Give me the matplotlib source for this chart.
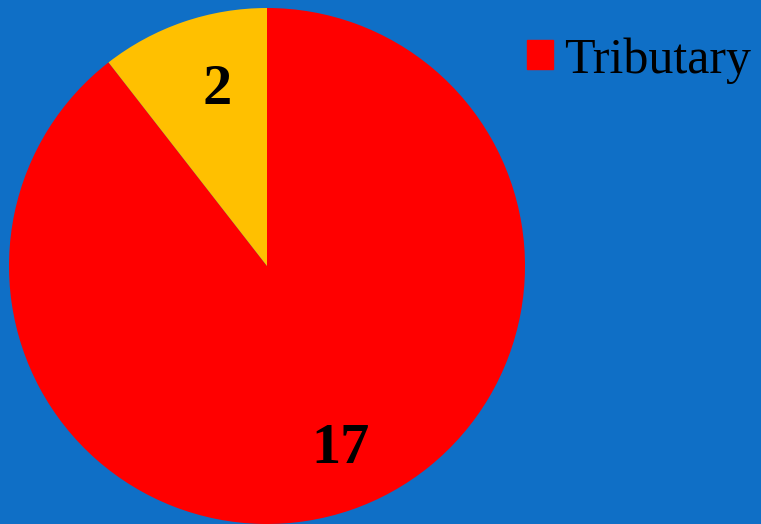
import matplotlib
matplotlib.use("Agg")
import matplotlib.pyplot as plt
import matplotlib.patches as mpatches

# Datos del grafico
categorias = ['Tributary', 'Other']
valores = [17, 2]
colores = ['#FF0000', '#FFC000']
fondo = '#0F6FC6'

plt.rcParams['font.family'] = ['Liberation Serif', 'DejaVu Serif']

fig = plt.figure(figsize=(7.61, 5.24), dpi=100, facecolor=fondo)
ax = fig.add_axes([9 / 761, 0 / 524, 516 / 761, 516 / 524])
ax.set_facecolor(fondo)

wedges, textos, autotextos = ax.pie(
    valores, colors=colores, startangle=90, counterclock=False,
    autopct=lambda p: '%d' % round(p * sum(valores) / 100),
    pctdistance=0.72, radius=1.0,
    textprops={'fontsize': 42, 'fontweight': 'bold', 'color': 'black'})

# pequeno ajuste de las etiquetas, como en el original
for t, (dx, dy) in zip(autotextos, [(0.05, -0.03), (0.04, 0.0)]):
    x, y = t.get_position()
    t.set_position((x + dx, y + dy))

ax.set_xlim(-1, 1)
ax.set_ylim(-1, 1)
ax.set_aspect('equal')

# Leyenda (solo se ve la primera entrada)
handles = [mpatches.Patch(color=colores[0], label=categorias[0])]
fig.legend(handles=handles, loc='upper left', bbox_to_anchor=(507 / 761, 1 - 17 / 524),
           frameon=False, fontsize=36, handlelength=0.52, handleheight=0.52,
           handletextpad=0.22, borderaxespad=0)

plt.savefig('out.png', dpi=100, facecolor=fondo)
